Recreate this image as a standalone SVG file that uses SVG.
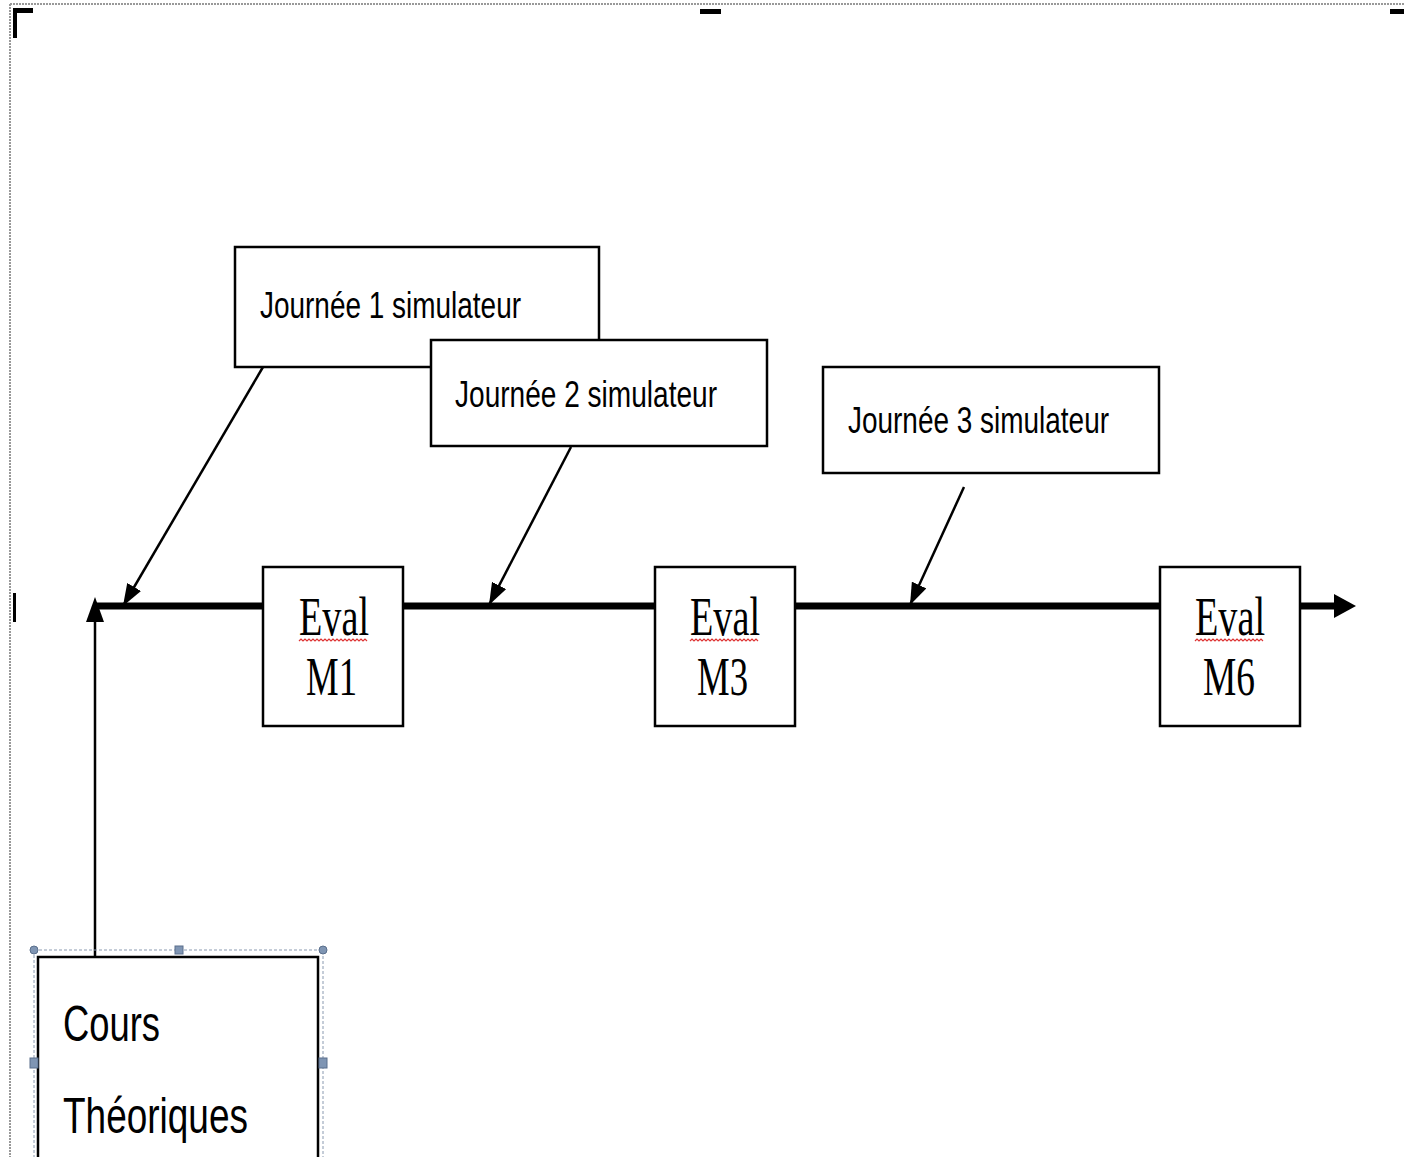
<svg xmlns="http://www.w3.org/2000/svg" width="1404" height="1157" viewBox="0 0 1404 1157">
<defs>
<style>
.box{fill:#fff;stroke:#000;stroke-width:2.5}
.lbl{font-family:"Liberation Sans",Arial,sans-serif;fill:#000}
.ev{font-family:"Liberation Serif","Times New Roman",serif;font-size:54px;fill:#000}
.con{stroke:#000;stroke-width:2.5;fill:none}
.sq{fill:none;stroke:#d33;stroke-width:1.2}
.mark{fill:#000}
.handle{fill:#7f95b3;stroke:#5a6f8c;stroke-width:1}
</style>
<marker id="ah" viewBox="0 0 22 16" refX="22" refY="8" markerWidth="22" markerHeight="16" markerUnits="userSpaceOnUse" orient="auto">
<path d="M0,0 L22,8 L0,16 z" fill="#000"/>
</marker>
</defs>
<rect width="1404" height="1157" fill="#fff"/>
<g id="page-frame">
<line x1="10" y1="4" x2="1404" y2="4" stroke="#999" stroke-width="2" stroke-dasharray="2 1"/>
<line x1="10" y1="4" x2="10" y2="1157" stroke="#999" stroke-width="2" stroke-dasharray="2 1"/>
<rect class="mark" x="13" y="8" width="20" height="5"/>
<rect class="mark" x="13" y="8" width="4" height="30"/>
<rect class="mark" x="700" y="9" width="21" height="5"/>
<rect class="mark" x="1390" y="9" width="14" height="5"/>
<rect class="mark" x="13" y="593" width="3" height="29"/>
</g>
<g id="connectors">
<line x1="95" y1="606" x2="1336" y2="606" stroke="#000" stroke-width="7"/>
<polygon points="1334,594 1356,606 1334,618" fill="#000"/>
<line class="con" x1="95" y1="957" x2="95" y2="615"/>
<polygon points="95,597 86,622 104,622" fill="#000"/>
<line class="con" x1="263" y1="367" x2="123" y2="606" marker-end="url(#ah)"/>
<line class="con" x1="571" y1="447" x2="489" y2="605" marker-end="url(#ah)"/>
<line class="con" x1="964" y1="487" x2="910" y2="605" marker-end="url(#ah)"/>
</g>
<g id="journee1">
<rect class="box" x="235" y="247" width="364" height="120"/>
<text class="lbl" x="260" y="318" font-size="36" textLength="261" lengthAdjust="spacingAndGlyphs">Journée 1 simulateur</text>
</g>
<g id="journee2">
<rect class="box" x="431" y="340" width="336" height="106"/>
<text class="lbl" x="455" y="407" font-size="36" textLength="262" lengthAdjust="spacingAndGlyphs">Journée 2 simulateur</text>
</g>
<g id="journee3">
<rect class="box" x="823" y="367" width="336" height="106"/>
<text class="lbl" x="848" y="433" font-size="36" textLength="261" lengthAdjust="spacingAndGlyphs">Journée 3 simulateur</text>
</g>
<g id="eval-m1">
<rect class="box" x="263" y="567" width="140" height="159"/>
<text class="ev" x="299" y="635" textLength="70" lengthAdjust="spacingAndGlyphs">Eval</text>
<path class="sq" d="M299,641 l2,-2 l2,2 l2,-2 l2,2 l2,-2 l2,2 l2,-2 l2,2 l2,-2 l2,2 l2,-2 l2,2 l2,-2 l2,2 l2,-2 l2,2 l2,-2 l2,2 l2,-2 l2,2 l2,-2 l2,2 l2,-2 l2,2 l2,-2 l2,2 l2,-2 l2,2 l2,-2 l2,2 l2,-2 l2,2 l2,-2 l2,2"/>
<text class="ev" x="306" y="695" textLength="51" lengthAdjust="spacingAndGlyphs">M1</text>
</g>
<g id="eval-m3">
<rect class="box" x="655" y="567" width="140" height="159"/>
<text class="ev" x="690" y="635" textLength="70" lengthAdjust="spacingAndGlyphs">Eval</text>
<path class="sq" d="M690,641 l2,-2 l2,2 l2,-2 l2,2 l2,-2 l2,2 l2,-2 l2,2 l2,-2 l2,2 l2,-2 l2,2 l2,-2 l2,2 l2,-2 l2,2 l2,-2 l2,2 l2,-2 l2,2 l2,-2 l2,2 l2,-2 l2,2 l2,-2 l2,2 l2,-2 l2,2 l2,-2 l2,2 l2,-2 l2,2 l2,-2 l2,2"/>
<text class="ev" x="697" y="695" textLength="51" lengthAdjust="spacingAndGlyphs">M3</text>
</g>
<g id="eval-m6">
<rect class="box" x="1160" y="567" width="140" height="159"/>
<text class="ev" x="1195" y="635" textLength="70" lengthAdjust="spacingAndGlyphs">Eval</text>
<path class="sq" d="M1195,641 l2,-2 l2,2 l2,-2 l2,2 l2,-2 l2,2 l2,-2 l2,2 l2,-2 l2,2 l2,-2 l2,2 l2,-2 l2,2 l2,-2 l2,2 l2,-2 l2,2 l2,-2 l2,2 l2,-2 l2,2 l2,-2 l2,2 l2,-2 l2,2 l2,-2 l2,2 l2,-2 l2,2 l2,-2 l2,2 l2,-2 l2,2"/>
<text class="ev" x="1203" y="695" textLength="52" lengthAdjust="spacingAndGlyphs">M6</text>
</g>
<g id="cours-theoriques">
<rect class="box" x="38" y="957" width="280" height="220"/>
<rect x="34" y="950" width="289" height="220" fill="none" stroke="#8a9ab0" stroke-width="1" stroke-dasharray="3 2"/>
<text class="lbl" x="63" y="1041" font-size="50" textLength="97" lengthAdjust="spacingAndGlyphs">Cours</text>
<text class="lbl" x="63" y="1133" font-size="50" textLength="185" lengthAdjust="spacingAndGlyphs">Théoriques</text>
<circle class="handle" cx="34" cy="950" r="4"/>
<circle class="handle" cx="323" cy="950" r="4"/>
<rect class="handle" x="175" y="946" width="8" height="8"/>
<rect class="handle" x="30" y="1058" width="8" height="10"/>
<rect class="handle" x="319" y="1058" width="8" height="10"/>
</g>
</svg>
